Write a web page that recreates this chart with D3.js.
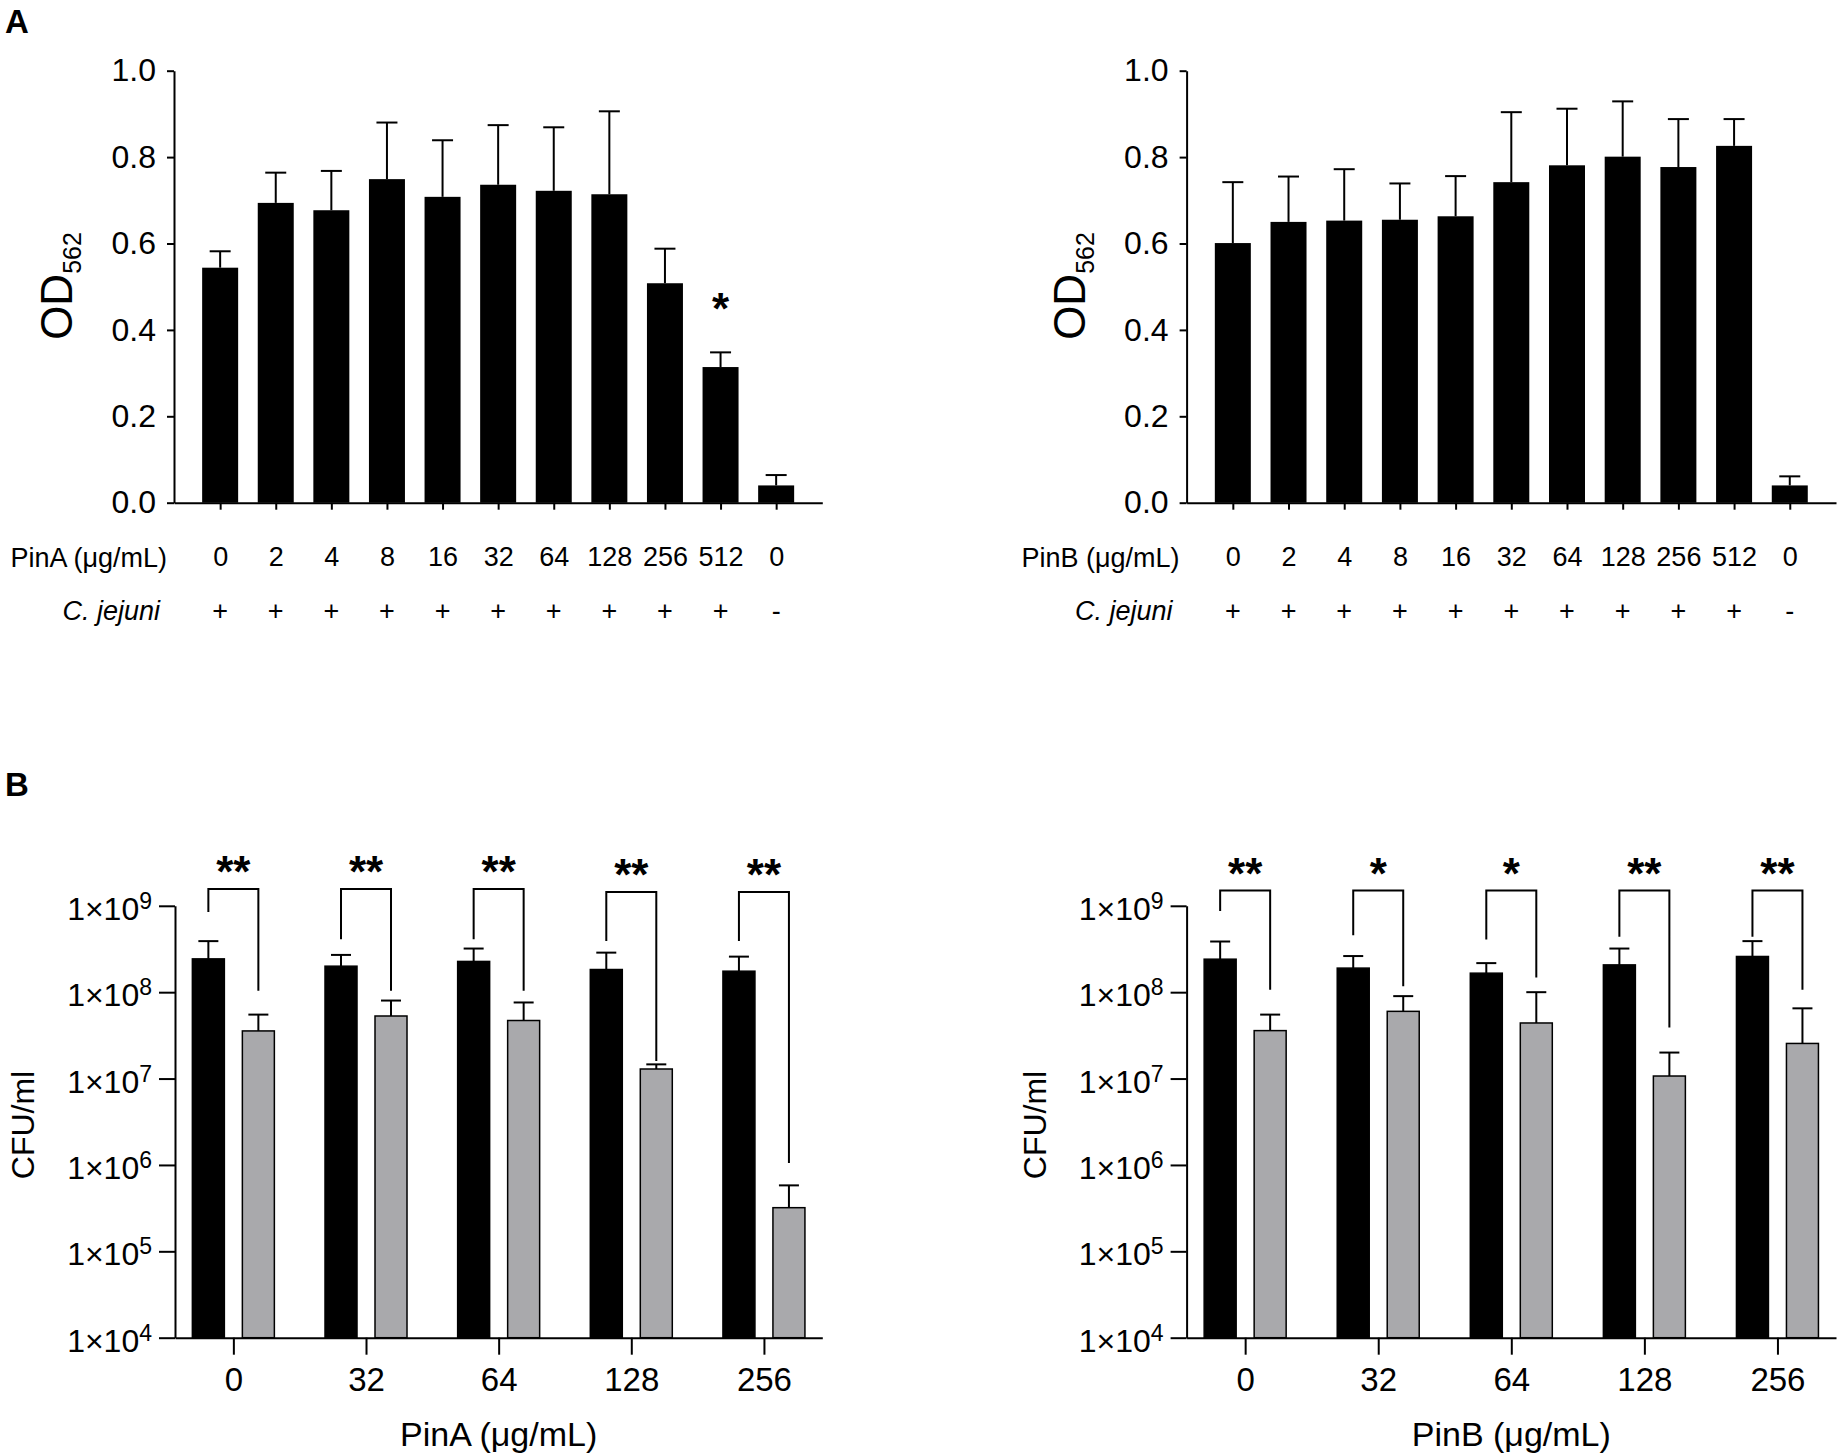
<!DOCTYPE html>
<html>
<head>
<meta charset="utf-8">
<script src="https://cdn.jsdelivr.net/npm/d3@7/dist/d3.min.js"></script>
<style>
  html, body { margin: 0; padding: 0; background: #fff; }
  svg { display: block; }
  text { font-family: "Liberation Sans", Arial, sans-serif; fill: #000; }
</style>
</head>
<body>
<svg id="chart" width="1838" height="1454"></svg>
<script>
// ---------------- DATA ----------------
// Panel A
const concLabels = ["0", "2", "4", "8", "16", "32", "64", "128", "256", "512", "0"];
const cjejuniLabels = ["+", "+", "+", "+", "+", "+", "+", "+", "+", "+", "-"];
const odTicks = [0, 0.2, 0.4, 0.6, 0.8, 1.0];

const pinA_OD_mean = [0.544, 0.694, 0.677, 0.749, 0.708, 0.736, 0.722, 0.714, 0.508, 0.314, 0.040];
const pinA_OD_sd   = [0.038, 0.070, 0.091, 0.131, 0.131, 0.138, 0.147, 0.192, 0.080, 0.034, 0.024];
const pinA_OD_sig  = ["", "", "", "", "", "", "", "", "", "*", ""];

const pinB_OD_mean = [0.601, 0.650, 0.653, 0.655, 0.663, 0.742, 0.781, 0.801, 0.777, 0.826, 0.040];
const pinB_OD_sd   = [0.141, 0.105, 0.119, 0.084, 0.093, 0.162, 0.131, 0.128, 0.111, 0.062, 0.021];
const pinB_OD_sig  = ["", "", "", "", "", "", "", "", "", "", ""];

// Panel B
const doseLabels = ["0", "32", "64", "128", "256"];
const cfuTicks = [1e4, 1e5, 1e6, 1e7, 1e8, 1e9];
const cfuTickExp = ["4", "5", "6", "7", "8", "9"];

const pinA_ctrl      = [2.43e8, 2.0e8, 2.27e8, 1.83e8, 1.75e8];
const pinA_ctrl_err  = [3.9e8, 2.7e8, 3.2e8, 2.87e8, 2.58e8];
const pinA_treat     = [3.56e7, 5.3e7, 4.7e7, 1.29e7, 3.2e5];
const pinA_treat_err = [5.5e7, 8.0e7, 7.6e7, 1.46e7, 5.8e5];
const pinA_sig       = ["**", "**", "**", "**", "**"];
const pinA_brTop     = [1.56e9, 1.56e9, 1.56e9, 1.44e9, 1.44e9];
const pinA_brLeft    = [8.5e8, 4.1e8, 4.1e8, 3.9e8, 3.9e8];
const pinA_brRight   = [1.04e8, 1.04e8, 1.04e8, 1.6e7, 1.05e6];

const pinB_ctrl      = [2.41e8, 1.9e8, 1.66e8, 2.07e8, 2.59e8];
const pinB_ctrl_err  = [3.86e8, 2.62e8, 2.17e8, 3.2e8, 3.9e8];
const pinB_treat     = [3.59e7, 6.0e7, 4.4e7, 1.07e7, 2.55e7];
const pinB_treat_err = [5.5e7, 9.0e7, 1.0e8, 2.0e7, 6.5e7];
const pinB_sig       = ["**", "*", "*", "**", "**"];
const pinB_brTop     = [1.5e9, 1.5e9, 1.5e9, 1.5e9, 1.5e9];
const pinB_brLeft    = [8.7e8, 4.57e8, 4.07e8, 4.37e8, 4.37e8];
const pinB_brRight   = [1.07e8, 1.17e8, 1.48e8, 3.9e7, 1.07e8];

// ---------------- DRAWING ----------------
const svg = d3.select("#chart");
const FONT = "'Liberation Sans', Arial, sans-serif";
const GRAY = "#a9a9ac";

function styleAxis(g) {
  g.attr("font-family", FONT).attr("font-size", null);
  g.selectAll("path.domain").attr("stroke", "#000").attr("stroke-width", 2);
  g.selectAll(".tick line").attr("stroke", "#000").attr("stroke-width", 2);
}

// panel label letters
svg.append("text").attr("x", 5).attr("y", 33).attr("font-size", 33).attr("font-weight", "bold").text("A");
svg.append("text").attr("x", 5).attr("y", 796).attr("font-size", 33).attr("font-weight", "bold").text("B");

function drawOD(x0, x1, mean, sd, sig, drug) {
  const idx = d3.range(mean.length);
  const x = d3.scalePoint().domain(idx).range([x0, x1]).padding(0.83);
  const y = d3.scaleLinear().domain([0, 1]).range([502.7, 70.7]);
  const bw = 36, cw = 21;
  const g = svg.append("g");

  // bars
  g.selectAll("rect.bar").data(idx).join("rect")
    .attr("x", i => x(i) - bw / 2).attr("width", bw)
    .attr("y", i => y(mean[i])).attr("height", i => y(0) - y(mean[i]))
    .attr("fill", "#000");
  // error bars (upper)
  g.selectAll("line.err").data(idx).join("line")
    .attr("x1", i => x(i)).attr("x2", i => x(i))
    .attr("y1", i => y(mean[i])).attr("y2", i => y(mean[i] + sd[i]))
    .attr("stroke", "#000").attr("stroke-width", 2);
  g.selectAll("line.cap").data(idx).join("line")
    .attr("x1", i => x(i) - cw / 2).attr("x2", i => x(i) + cw / 2)
    .attr("y1", i => y(mean[i] + sd[i])).attr("y2", i => y(mean[i] + sd[i]))
    .attr("stroke", "#000").attr("stroke-width", 2);
  // significance
  g.selectAll("text.sig").data(idx.filter(i => sig[i])).join("text")
    .attr("x", i => x(i)).attr("y", i => y(mean[i] + sd[i]) - 28)
    .attr("text-anchor", "middle").attr("font-size", 44).attr("font-weight", "bold")
    .text(i => sig[i]);

  // y axis
  const ya = svg.append("g").attr("transform", `translate(${x0},0)`)
    .call(d3.axisLeft(y).tickValues(odTicks).tickFormat(d3.format(".1f")).tickSize(7).tickSizeOuter(0).tickPadding(11));
  styleAxis(ya);
  ya.selectAll(".tick text").attr("font-size", 32).attr("fill", "#000");

  // x axis
  const xa = svg.append("g").attr("transform", `translate(0,${y(0)})`)
    .call(d3.axisBottom(x).tickFormat(i => concLabels[i]).tickSize(7).tickSizeOuter(0).tickPadding(37));
  styleAxis(xa);
  xa.selectAll(".tick text").attr("font-size", 27).attr("fill", "#000");

  // C. jejuni row
  svg.selectAll(null).data(idx).join("text")
    .attr("x", i => x(i)).attr("y", 620).attr("text-anchor", "middle")
    .attr("font-size", 27).text(i => cjejuniLabels[i]);

  svg.append("text").attr("x", x0 - 7).attr("y", 566.5).attr("text-anchor", "end")
    .attr("font-size", 27).text(drug + " (μg/mL)");
  svg.append("text").attr("x", x0 - 14).attr("y", 620).attr("text-anchor", "end")
    .attr("font-size", 27).attr("font-style", "italic").text("C. jejuni");

  // y label OD562
  const t = svg.append("text").attr("transform", `translate(${x0 - 102},286) rotate(-90)`)
    .attr("text-anchor", "middle");
  t.append("tspan").attr("font-size", 44).text("OD");
  t.append("tspan").attr("font-size", 25).attr("dy", 9).text("562");
}

function drawCFU(x0, x1, ctrl, ctrlErr, treat, treatErr, sig, brTop, brL, brR, drug, labelX) {
  const x = d3.scalePoint().domain(doseLabels).range([x0, x1]).padding(0.44);
  const y = d3.scaleLog().domain([1e4, 1e9]).range([1337.7, 905.8]);
  const bw = 32, off = 25, cw = 20;
  const g = svg.append("g");
  const idx = d3.range(doseLabels.length);
  const series = [
    { vals: ctrl, err: ctrlErr, dx: -off, fill: "#000" },
    { vals: treat, err: treatErr, dx: off, fill: GRAY }
  ];
  series.forEach(s => {
    g.selectAll(null).data(idx).join("rect")
      .attr("x", i => x(doseLabels[i]) + s.dx - bw / 2).attr("width", bw)
      .attr("y", i => y(s.vals[i])).attr("height", i => y(1e4) - y(s.vals[i]))
      .attr("fill", s.fill).attr("stroke", "#000").attr("stroke-width", 1.5);
    g.selectAll(null).data(idx).join("line")
      .attr("x1", i => x(doseLabels[i]) + s.dx).attr("x2", i => x(doseLabels[i]) + s.dx)
      .attr("y1", i => y(s.vals[i])).attr("y2", i => y(s.err[i]))
      .attr("stroke", "#000").attr("stroke-width", 2);
    g.selectAll(null).data(idx).join("line")
      .attr("x1", i => x(doseLabels[i]) + s.dx - cw / 2).attr("x2", i => x(doseLabels[i]) + s.dx + cw / 2)
      .attr("y1", i => y(s.err[i])).attr("y2", i => y(s.err[i]))
      .attr("stroke", "#000").attr("stroke-width", 2);
  });
  // brackets
  g.selectAll(null).data(idx).join("path")
    .attr("d", i => {
      const xl = x(doseLabels[i]) - off, xr = x(doseLabels[i]) + off;
      return `M${xl},${y(brL[i])}V${y(brTop[i])}H${xr}V${y(brR[i])}`;
    })
    .attr("fill", "none").attr("stroke", "#000").attr("stroke-width", 2);
  g.selectAll(null).data(idx).join("text")
    .attr("x", i => x(doseLabels[i])).attr("y", i => y(brTop[i]) - 2)
    .attr("text-anchor", "middle").attr("font-size", 44).attr("font-weight", "bold")
    .text(i => sig[i]);

  // y axis
  const ya = svg.append("g").attr("transform", `translate(${x0},0)`)
    .call(d3.axisLeft(y).tickValues(cfuTicks).tickFormat("").tickSize(16).tickSizeOuter(0));
  styleAxis(ya);
  ya.selectAll(".tick").each(function(d, i) {
    const tx = d3.select(this).append("text")
      .attr("x", -23).attr("y", 13.5).attr("text-anchor", "end").attr("fill", "#000");
    tx.append("tspan").attr("font-size", 32).text("1×10");
    tx.append("tspan").attr("font-size", 23).attr("dy", -11).text(cfuTickExp[i]);
  });

  // x axis
  const xa = svg.append("g").attr("transform", `translate(0,${y(1e4)})`)
    .call(d3.axisBottom(x).tickSize(17).tickSizeOuter(0).tickPadding(12.5));
  styleAxis(xa);
  xa.selectAll(".tick text").attr("font-size", 33).attr("fill", "#000");

  svg.append("text").attr("x", x(doseLabels[2])).attr("y", 1446).attr("text-anchor", "middle")
    .attr("font-size", 34).text(drug + " (μg/mL)");

  svg.append("text").attr("transform", `translate(${labelX},1125) rotate(-90)`)
    .attr("text-anchor", "middle").attr("font-size", 32).text("CFU/ml");
}

drawOD(174, 822.3, pinA_OD_mean, pinA_OD_sd, pinA_OD_sig, "PinA");
drawOD(1186.6, 1836, pinB_OD_mean, pinB_OD_sd, pinB_OD_sig, "PinB");
drawCFU(175, 822.3, pinA_ctrl, pinA_ctrl_err, pinA_treat, pinA_treat_err, pinA_sig, pinA_brTop, pinA_brLeft, pinA_brRight, "PinA", 34);
drawCFU(1186.6, 1836, pinB_ctrl, pinB_ctrl_err, pinB_treat, pinB_treat_err, pinB_sig, pinB_brTop, pinB_brLeft, pinB_brRight, "PinB", 1046);
</script>
</body>
</html>
